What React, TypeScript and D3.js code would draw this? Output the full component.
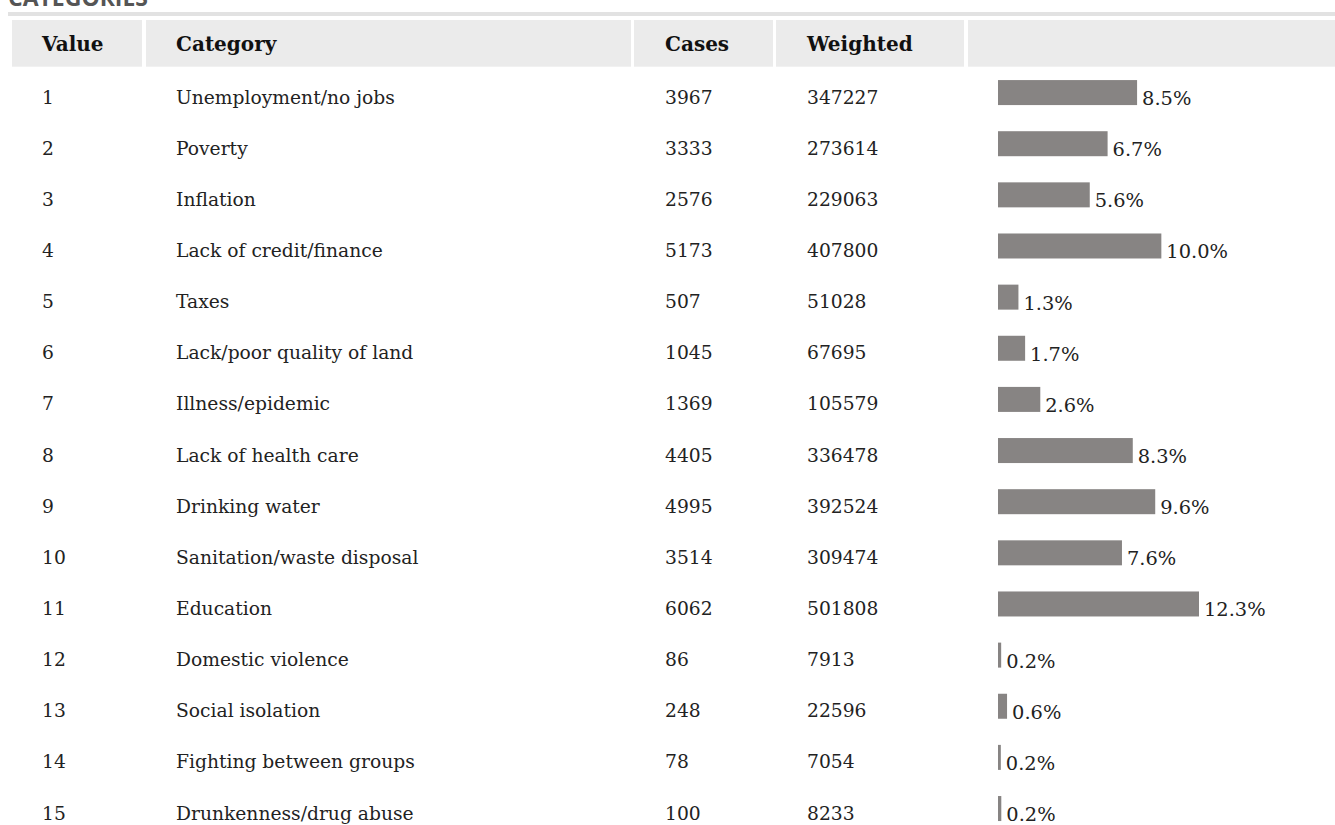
import * as d3 from "d3";

const values = [1, 2, 3, 4, 5, 6, 7, 8, 9, 10, 11, 12, 13, 14, 15];
const categories = [
  "Unemployment/no jobs",
  "Poverty",
  "Inflation",
  "Lack of credit/finance",
  "Taxes",
  "Lack/poor quality of land",
  "Illness/epidemic",
  "Lack of health care",
  "Drinking water",
  "Sanitation/waste disposal",
  "Education",
  "Domestic violence",
  "Social isolation",
  "Fighting between groups",
  "Drunkenness/drug abuse",
];
const cases = [3967, 3333, 2576, 5173, 507, 1045, 1369, 4405, 4995, 3514, 6062, 86, 248, 78, 100];
const weighted = [347227, 273614, 229063, 407800, 51028, 67695, 105579, 336478, 392524, 309474, 501808, 7913, 22596, 7054, 8233];
const percents = ["8.5%", "6.7%", "5.6%", "10.0%", "1.3%", "1.7%", "2.6%", "8.3%", "9.6%", "7.6%", "12.3%", "0.2%", "0.6%", "0.2%", "0.2%"];
const headers = ["Value", "Category", "Cases", "Weighted", ""];

export default function App() {
  const width = 1335;
  const height = 825;
  const font = "'DejaVu Serif', serif";

  // header cells: [left, right] edges and text x
  const cells = [
    { x0: 12, x1: 142, tx: 42 },
    { x0: 146, x1: 631, tx: 176 },
    { x0: 634, x1: 773, tx: 665 },
    { x0: 776, x1: 964, tx: 807 },
    { x0: 968, x1: 1335, tx: 998 },
  ];

  const y = d3.scaleBand<number>()
    .domain(values)
    .range([71.5, 71.5 + values.length * 51.14]);

  const barX0 = 998;
  const x = d3.scaleLinear()
    .domain([0, 501808])
    .range([barX0, barX0 + 201]);

  return (
    <svg
      width={width}
      height={height}
      style={{ position: "absolute", left: 0, top: 0, background: "#fff" }}
      fontFamily={font}
    >
      {/* section title, cut off at the top */}
      <text x={8} y={6} fontFamily="'Open Sans', sans-serif" fontWeight={700} fontSize={23} fill="#555">
        CATEGORIES
      </text>
      <rect x={8} y={12} width={width - 8} height={4} fill="#e2e2e2" />

      {/* header row */}
      {cells.map((c, i) => (
        <g key={i}>
          <rect x={c.x0} y={20} width={c.x1 - c.x0} height={46.7} fill="#ebebeb" />
          <text x={c.tx} y={51} fontWeight={700} fontSize={20} fill="#111">
            {headers[i]}
          </text>
        </g>
      ))}

      {/* rows */}
      {values.map((v, i) => {
        const cy = (y(v) ?? 0) + y.bandwidth() / 2;
        const xe = x(weighted[i]);
        return (
          <g key={v} fontSize={18.7} fill="#222">
            <text x={cells[0].tx} y={cy} dominantBaseline="central">{v}</text>
            <text x={cells[1].tx} y={cy} dominantBaseline="central">{categories[i]}</text>
            <text x={cells[2].tx} y={cy} dominantBaseline="central">{cases[i]}</text>
            <text x={cells[3].tx} y={cy} dominantBaseline="central">{weighted[i]}</text>
            <rect x={barX0} y={cy - 17} width={xe - barX0} height={25} fill="#878483" />
            <text x={xe + 5} y={cy + 8} fontSize={19.4}>{percents[i]}</text>
          </g>
        );
      })}
    </svg>
  );
}
